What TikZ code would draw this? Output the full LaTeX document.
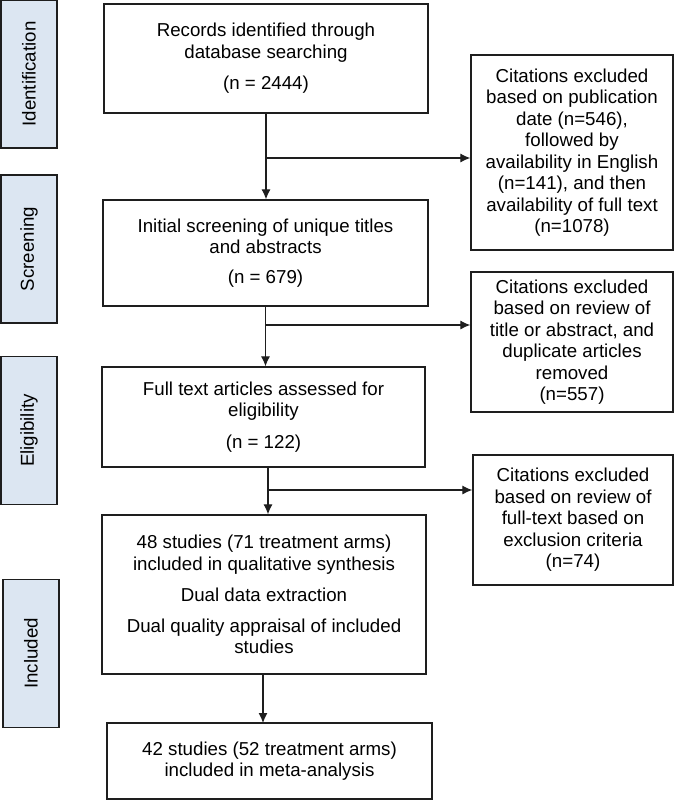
\documentclass[tikz,border=0pt]{standalone}
\usepackage{fontspec}
\setmainfont{Liberation Sans}
\usetikzlibrary{arrows.meta}

\definecolor{phaseblue}{RGB}{220,230,242}
\definecolor{edge}{RGB}{30,30,30}

\begin{document}
\begin{tikzpicture}[
        x = 1pt, y = -1pt,
        box/.style = {
            draw = edge,
            line width = 1.3pt,
            align = center,
            inner sep = 2pt,
            minimum width = #1
        },
        box/.default = 324pt,
        phase/.style = {
            draw = edge,
            fill = phaseblue,
            line width = 1.3pt,
            rotate = 90,
            minimum width = 148pt,
            minimum height = 56pt,
            inner sep = 0pt
        },
        arr/.style = {
            draw = edge,
            line width = 1.1pt,
            -{Latex[length=10pt, width=9pt]}
        }
        ]
        \useasboundingbox (0,0) rectangle (675,801);
        \fontsize{18.7}{21.5}\selectfont
%
        \node[phase] (ident) at (29,74) {Identification};
        \node[phase] (screen) at (29,249) {Screening};
        \node[phase] (eligib) at (29,430.5) {Eligibility};
        \node[phase] (incl) at (31,653.5) {Included};
%
        \node[box, minimum height=109pt] (rec) at (266,58.5)
            {Records identified through\\ database searching\\[10pt] (n = 2444)};
        \node[box=325pt, minimum height=106pt] (scr) at (265.5,253)
            {Initial screening of unique titles\\ and abstracts\\[8pt] (n = 679)};
        \node[box=323pt, minimum height=100pt] (full) at (263.5,417)
            {Full text articles assessed for\\ eligibility\\[10pt] (n = 122)};
        \node[box, minimum height=159pt] (qual) at (264,594.5)
            {48 studies (71 treatment arms)\\ included in qualitative synthesis\\[10pt]
             Dual data extraction\\[9pt]
             Dual quality appraisal of included\\ studies};
        \node[box=325pt, minimum height=76pt] (meta) at (269.5,761)
            {42 studies (52 treatment arms)\\ included in meta-analysis};
%
        \node[box=202pt, minimum height=195pt] (exA) at (572,152.5)
            {Citations excluded\\ based on publication\\ date (n=546),\\ followed by\\
             availability in English\\ (n=141), and then\\ availability of full text\\ (n=1078)};
        \node[box=202pt, minimum height=140pt] (exB) at (572,342)
            {Citations excluded\\ based on review of\\ title or abstract, and\\
             duplicate articles\\ removed\\ (n=557)};
        \node[box=200pt, minimum height=130pt] (exC) at (573,520)
            {Citations excluded\\ based on review of\\ full-text based on\\
             exclusion criteria\\ (n=74)};
%
        \coordinate (b1) at (266,158);
        \coordinate (b2) at (265.5,325);
        \coordinate (b3) at (268,490);
%
        \draw[arr] (rec.south) -- (rec.south |- scr.north);
        \draw[arr] (b1) -- (exA.west |- b1);
        \draw[arr] (scr.south) -- (scr.south |- full.north);
        \draw[arr] (b2) -- (exB.west |- b2);
        \draw[arr] (b3 |- full.south) -- (b3 |- qual.north);
        \draw[arr] (b3) -- (exC.west |- b3);
        \draw[arr] (263,674) -- (263,723);
    \end{tikzpicture}
\end{document}
